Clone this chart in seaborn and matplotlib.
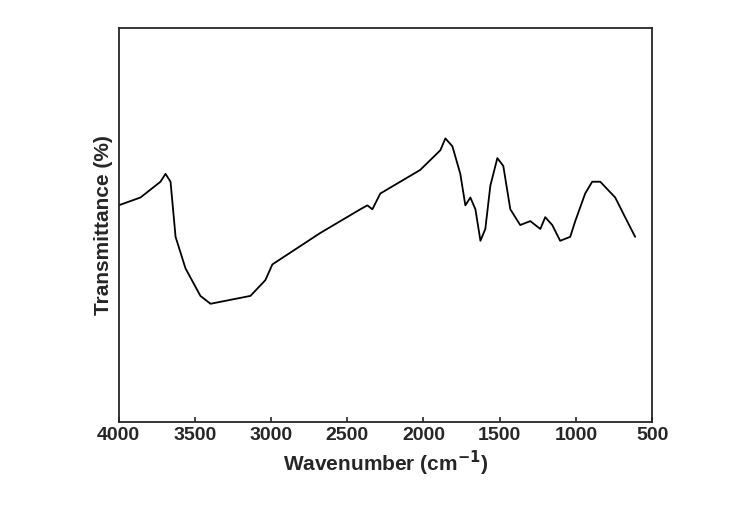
import numpy as np
import pandas as pd
import matplotlib.pyplot as plt
import seaborn as sns

sns.set_style('ticks')
plt.rcParams['font.family'] = ['Liberation Sans', 'DejaVu Sans']

# FTIR spectrum (transmittance in arbitrary %)
wavenumber = [4000, 3856, 3725, 3692, 3659, 3626, 3561, 3463, 3397, 3266, 3135, 3037,
              2991, 2676, 2545, 2414, 2368, 2335, 2283, 2152, 2021, 1889, 1856,
              1810, 1758, 1725, 1692, 1659, 1626, 1594, 1561, 1515, 1476, 1430, 1365,
              1299, 1233, 1201, 1155, 1103, 1037, 1004, 939, 893, 840, 742, 677, 611]
transmittance = [55, 57, 61, 63, 61, 47, 39, 32, 30, 31, 32, 36,
                 40, 48, 51, 54, 55, 54, 58, 61, 64, 69, 72,
                 70, 63, 55, 57, 54, 46, 49, 60, 67, 65, 54, 50,
                 51, 49, 52, 50, 46, 47, 51, 58, 61, 61, 57, 52, 47]

df = pd.DataFrame({'wavenumber': wavenumber, 'transmittance': transmittance})

fig, ax = plt.subplots(figsize=(7.41, 5.32), dpi=100)
sns.lineplot(data=df, x='wavenumber', y='transmittance', color='black', linewidth=1.3, ax=ax)

ax.set_xlim(4000, 500)
ax.set_ylim(0, 100)
ax.set_xticks([4000, 3500, 3000, 2500, 2000, 1500, 1000, 500])
ax.set_yticks([])
ax.tick_params(axis='x', direction='in', labelsize=14, width=1.2)
for lbl in ax.get_xticklabels():
    lbl.set_fontweight('bold')
for s in ax.spines.values():
    s.set_visible(True)
    s.set_linewidth(1.3)
ax.set_xlabel('Wavenumber (cm$^{\\mathbf{-1}}$)', fontsize=15, fontweight='bold')
ax.set_ylabel('Transmittance (%)', fontsize=15, fontweight='bold')

plt.subplots_adjust(left=0.16, right=0.88, top=0.947, bottom=0.207)
plt.savefig('out.png', dpi=100)
